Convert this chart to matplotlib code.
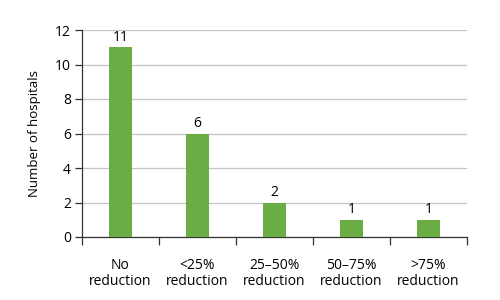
import matplotlib
matplotlib.use("Agg")
import matplotlib.pyplot as plt

categories = ["No\nreduction", "<25%\nreduction", "25–50%\nreduction", "50–75%\nreduction", ">75%\nreduction"]
values = [11, 6, 2, 1, 1]
yticks = [0, 2, 4, 6, 8, 10, 12]

plt.rcParams['font.family'] = ['Open Sans', 'DejaVu Sans']

fig = plt.figure(figsize=(5, 3), dpi=100)
ax = fig.add_axes([0.164, 0.21, 0.77, 0.69])

fs = 10
tc = "#000000"
x = range(len(values))
ax.bar(x, values, width=0.31, color="#6BAD45", zorder=3)
for xi, v in zip(x, values):
    ax.text(xi, v + 0.15, str(v), ha="center", va="bottom", fontsize=fs, color=tc)

ax.set_xlim(-0.5, len(values) - 0.5)
ax.set_ylim(0, 12)
ax.set_yticks(yticks)
ax.set_yticklabels([str(t) for t in yticks], fontsize=fs, color=tc)
ax.yaxis.grid(True, color="#C4C4C4", linewidth=0.9, zorder=0)
ax.set_axisbelow(True)

ax.set_xticks([i for i in x])
ax.set_xticklabels(categories, fontsize=fs, color=tc, linespacing=1.1)
ax.tick_params(axis="x", length=0, pad=15)
ax.set_xticks([i - 0.5 for i in range(len(values) + 1)], minor=True)
ax.tick_params(axis="x", which="minor", length=6, direction="out", color="#333333", width=0.9)
ax.tick_params(axis="y", length=5, direction="out", color="#333333", width=0.9, pad=3)

for s in ["top", "right"]:
    ax.spines[s].set_visible(False)
ax.spines["left"].set_color("#333333")
ax.spines["bottom"].set_color("#333333")
ax.spines["left"].set_linewidth(0.9)
ax.spines["bottom"].set_linewidth(0.9)

ax.set_ylabel("Number of hospitals", fontsize=9.5, color=tc, labelpad=10)

fig.savefig("out.png", dpi=100, facecolor="white")
